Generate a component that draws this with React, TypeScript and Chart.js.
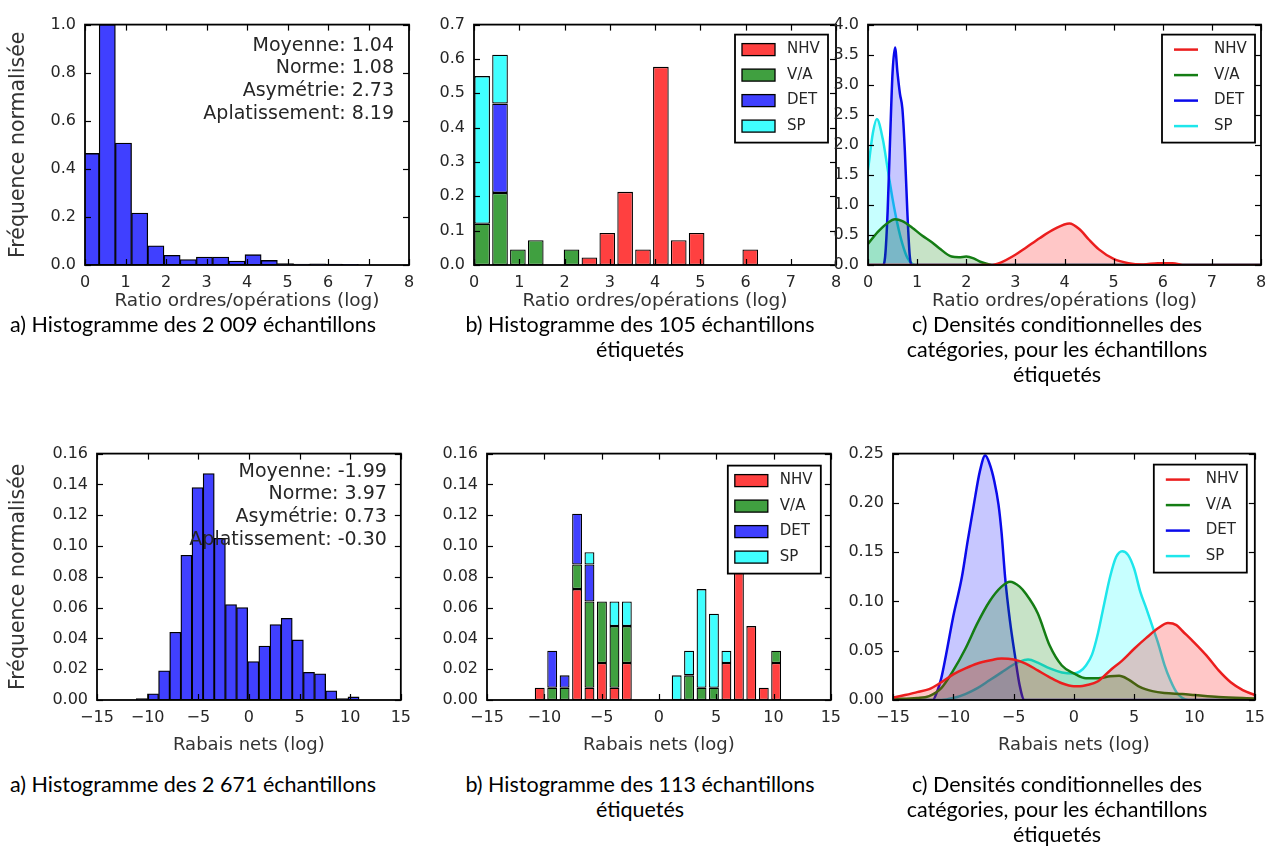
import React, { useEffect, useRef } from 'react';
import { Chart, registerables } from 'chart.js';
Chart.register(...registerables);

// ---------------- data ----------------
const categories = ['NHV', 'V/A', 'DET', 'SP'];

// tick values
const ratioTicksX = [0, 1, 2, 3, 4, 5, 6, 7, 8];
const rabaisTicksX = [-15, -10, -5, 0, 5, 10, 15];
const ratioAllTicksY = [0, 0.2, 0.4, 0.6, 0.8, 1.0];
const ratioLabTicksY = [0, 0.1, 0.2, 0.3, 0.4, 0.5, 0.6, 0.7];
const ratioDensTicksY = [0, 0.5, 1.0, 1.5, 2.0, 2.5, 3.0, 3.5, 4.0];
const rabaisHistTicksY = [0, 0.02, 0.04, 0.06, 0.08, 0.1, 0.12, 0.14, 0.16];
const rabaisDensTicksY = [0, 0.05, 0.1, 0.15, 0.2, 0.25];

// statistics text
const ratioStats = ['Moyenne: 1.04', 'Norme: 1.08', 'Asymétrie: 2.73', 'Aplatissement: 8.19'];
const rabaisStats = ['Moyenne: -1.99', 'Norme: 3.97', 'Asymétrie: 0.73', 'Aplatissement: -0.30'];

// a) ratio histogram, all samples (bin centres / normalised frequency)
const ratioBinsAll = [0.15, 0.55, 0.95, 1.35, 1.75, 2.15, 2.55, 2.95, 3.35, 3.75, 4.15, 4.55, 4.95, 5.35, 5.75, 6.15, 6.55, 6.95, 7.35, 7.75];
const ratioFreqAll = [0.464, 1.0, 0.507, 0.216, 0.08, 0.04, 0.023, 0.033, 0.033, 0.016, 0.043, 0.019, 0.006, 0.004, 0.005, 0.004, 0.003, 0, 0, 0];

// b) ratio histogram, labelled samples (stacked)
const ratioBinsLab = [0.18, 0.575, 0.97, 1.365, 1.76, 2.155, 2.55, 2.945, 3.34, 3.735, 4.13, 4.525, 4.92, 5.315, 5.71, 6.105, 6.5, 6.895, 7.29, 7.685];
const ratioLabNHV = [0, 0, 0, 0, 0, 0, 0.022, 0.093, 0.213, 0.045, 0.577, 0.072, 0.093, 0, 0, 0.045, 0, 0, 0, 0];
const ratioLabVA = [0.12, 0.21, 0.045, 0.072, 0, 0.045, 0, 0, 0, 0, 0, 0, 0, 0, 0, 0, 0, 0, 0, 0];
const ratioLabDET = [0, 0.26, 0, 0, 0, 0, 0, 0, 0, 0, 0, 0, 0, 0, 0, 0, 0, 0, 0, 0];
const ratioLabSP = [0.43, 0.142, 0, 0, 0, 0, 0, 0, 0, 0, 0, 0, 0, 0, 0, 0, 0, 0, 0, 0];

// c) ratio conditional densities
const ratioDensNHVx = [0, 2.5, 2.7, 3.0, 3.2, 3.5, 3.8, 4.1, 4.3, 4.5, 4.7, 5.0, 5.3, 5.6, 5.9, 6.2, 6.45, 8];
const ratioDensNHVy = [0, 0, 0.04, 0.17, 0.28, 0.45, 0.6, 0.69, 0.6, 0.42, 0.26, 0.1, 0.03, 0.01, 0.03, 0.03, 0, 0];
const ratioDensVAx = [0, 0.2, 0.4, 0.55, 0.7, 0.9, 1.1, 1.3, 1.45, 1.7, 1.85, 2.0, 2.15, 2.3, 2.45, 2.55, 8];
const ratioDensVAy = [0.35, 0.55, 0.7, 0.76, 0.73, 0.62, 0.49, 0.38, 0.28, 0.14, 0.13, 0.14, 0.11, 0.05, 0.015, 0, 0];
const ratioDensDETx = [0, 0.3, 0.35, 0.4, 0.45, 0.5, 0.55, 0.6, 0.65, 0.7, 0.75, 0.8, 0.85, 0.9, 8];
const ratioDensDETy = [0, 0, 0.15, 0.9, 2.1, 3.2, 3.62, 3.2, 2.85, 2.6, 1.9, 0.9, 0.15, 0, 0];
const ratioDensSPx = [0, 0.1, 0.18, 0.3, 0.4, 0.5, 0.6, 0.7, 0.8, 0.9, 1.0, 8];
const ratioDensSPy = [1.58, 2.2, 2.43, 2.1, 1.6, 1.1, 0.68, 0.35, 0.12, 0.02, 0, 0];

// a) net discount histogram, all samples
const rabaisBinsAll = [-10.57, -9.47, -8.37, -7.27, -6.17, -5.07, -3.97, -2.87, -1.77, -0.67, 0.43, 1.53, 2.63, 3.73, 4.83, 5.93, 7.03, 8.13, 9.23, 10.33];
const rabaisFreqAll = [0.001, 0.004, 0.019, 0.044, 0.094, 0.138, 0.147, 0.105, 0.062, 0.06, 0.025, 0.035, 0.049, 0.053, 0.039, 0.018, 0.017, 0.006, 0.001, 0.002];

// b) net discount histogram, labelled samples (stacked)
const rabaisBinsLab = [-10.4, -9.31, -8.23, -7.14, -6.06, -4.97, -3.88, -2.8, -1.71, -0.63, 0.46, 1.55, 2.63, 3.72, 4.8, 5.89, 6.98, 8.06, 9.15, 10.23];
const rabaisLabNHV = [0.008, 0, 0, 0.072, 0.008, 0.024, 0.008, 0.024, 0, 0, 0, 0, 0, 0, 0, 0.024, 0.105, 0.048, 0.008, 0.024];
const rabaisLabVA = [0, 0.008, 0.008, 0.016, 0.056, 0.04, 0.04, 0.024, 0, 0, 0, 0, 0.016, 0.008, 0.008, 0, 0, 0, 0, 0.008];
const rabaisLabDET = [0, 0.024, 0.008, 0.033, 0.024, 0, 0, 0, 0, 0, 0, 0, 0, 0, 0, 0, 0, 0, 0, 0];
const rabaisLabSP = [0, 0, 0, 0, 0.008, 0, 0.016, 0.016, 0, 0, 0, 0.016, 0.016, 0.064, 0.048, 0.008, 0, 0, 0, 0];

// c) net discount conditional densities
const rabaisDensNHVx = [-15, -14, -13, -12, -11, -10, -9, -8, -7, -6, -5, -4, -3, -2, -1, 0, 0.5, 1, 2, 3, 4, 5, 6, 7, 7.8, 8.5, 9, 10, 11, 12, 13, 14, 15];
const rabaisDensNHVy = [0.0025, 0.005, 0.008, 0.011, 0.018, 0.026, 0.032, 0.037, 0.04, 0.042, 0.041, 0.037, 0.03, 0.023, 0.017, 0.014, 0.014, 0.015, 0.019, 0.03, 0.04, 0.052, 0.063, 0.073, 0.078, 0.076, 0.07, 0.058, 0.045, 0.03, 0.018, 0.01, 0.005];
const rabaisDensVAx = [-15, -13, -12, -11, -10, -9, -8, -7, -6, -5.3, -4.5, -4, -3, -2, -1, 0, 1, 2, 3, 3.75, 4.5, 5.5, 6.5, 7.5, 9, 10, 12, 15];
const rabaisDensVAy = [0.001, 0.002, 0.004, 0.012, 0.03, 0.052, 0.078, 0.1, 0.115, 0.12, 0.115, 0.108, 0.088, 0.055, 0.035, 0.027, 0.022, 0.022, 0.024, 0.0245, 0.021, 0.013, 0.009, 0.007, 0.006, 0.005, 0.003, 0.0015];
const rabaisDensDETx = [-15, -11.7, -11.3, -11, -10.6, -10, -9.3, -8.8, -8.3, -7.8, -7.35, -7, -6.6, -6.25, -6, -5.7, -5.3, -4.9, -4.5, -4.1, 15];
const rabaisDensDETy = [0, 0, 0.01, 0.022, 0.046, 0.085, 0.124, 0.162, 0.198, 0.232, 0.248, 0.24, 0.222, 0.198, 0.17, 0.124, 0.08, 0.046, 0.015, 0, 0];
const rabaisDensSPx = [-15, -11, -10, -9, -8, -7, -6, -5, -4.5, -3.8, -3, -2, -1, 0, 0.5, 1, 1.5, 2, 2.5, 3, 3.5, 4, 4.5, 5, 5.5, 6, 6.5, 7, 7.5, 8, 8.5, 9, 9.5, 15];
const rabaisDensSPy = [0, 0, 0.002, 0.006, 0.012, 0.02, 0.028, 0.036, 0.039, 0.041, 0.038, 0.032, 0.028, 0.027, 0.029, 0.035, 0.046, 0.068, 0.097, 0.125, 0.145, 0.151, 0.147, 0.133, 0.11, 0.093, 0.075, 0.057, 0.036, 0.02, 0.008, 0.002, 0, 0];

// ---------------- styling ----------------
const BAR_COLORS = ['rgb(255,64,64)', 'rgb(64,160,64)', 'rgb(64,64,255)', 'rgb(64,255,255)'];
const LINE_COLORS = ['rgb(235,30,30)', 'rgb(20,125,20)', 'rgb(10,10,235)', 'rgb(30,230,235)'];
const FILL_COLORS = ['rgba(255,0,0,0.22)', 'rgba(0,128,0,0.22)', 'rgba(0,0,255,0.22)', 'rgba(0,255,255,0.22)'];
const HIST_BLUE = 'rgb(64,64,255)';
const FONT = '"DejaVu Sans"';
const TEXT = '#262626';

Chart.defaults.font.family = FONT;
Chart.defaults.color = TEXT;

const PAD_T = 12;
const PAD_R = 14;

type Geo = { l: number; t: number; r: number; b: number; yW: number; xH: number };

function fmt(dec: number) {
  return (v: number) => {
    const s = Math.abs(v).toFixed(dec);
    return v < -1e-9 ? '\u2212' + s : s;
  };
}

function framePlugin() {
  return {
    id: 'frame',
    afterDatasetsDraw(chart: any) {
      const { ctx, chartArea: a, scales } = chart;
      ctx.save();
      ctx.strokeStyle = '#000';
      ctx.lineWidth = 1.2;
      const L = 6;
      const seg = (x1: number, y1: number, x2: number, y2: number) => {
        ctx.beginPath();
        ctx.moveTo(x1, y1);
        ctx.lineTo(x2, y2);
        ctx.stroke();
      };
      scales.x.ticks.forEach((t: any) => {
        const p = Math.round(scales.x.getPixelForValue(t.value)) + 0.5;
        seg(p, a.bottom, p, a.bottom - L);
        seg(p, a.top, p, a.top + L);
      });
      scales.y.ticks.forEach((t: any) => {
        const p = Math.round(scales.y.getPixelForValue(t.value)) + 0.5;
        seg(a.left, p, a.left + L, p);
        seg(a.right, p, a.right - L, p);
      });
      ctx.lineWidth = 1.8;
      ctx.strokeRect(a.left, a.top, a.right - a.left, a.bottom - a.top);
      ctx.restore();
    },
  };
}

function statsPlugin(lines: string[], dx: number, dy: number, lh: number, size: number) {
  return {
    id: 'stats',
    afterDatasetsDraw(chart: any) {
      const { ctx, chartArea: a } = chart;
      ctx.save();
      ctx.font = `${size}px ${FONT}`;
      ctx.fillStyle = TEXT;
      ctx.textAlign = 'right';
      ctx.textBaseline = 'middle';
      lines.forEach((s, i) => ctx.fillText(s, a.right - dx, a.top + dy + i * lh));
      ctx.restore();
    },
  };
}

function legendPlugin(kind: 'bar' | 'line', dx: number, dy: number) {
  return {
    id: 'boxLegend',
    afterDraw(chart: any) {
      const { ctx, chartArea: a } = chart;
      const w = 93;
      const h = 108;
      const x0 = a.right - dx - w;
      const y0 = a.top + dy;
      ctx.save();
      ctx.fillStyle = '#fff';
      ctx.fillRect(x0, y0, w, h);
      ctx.strokeStyle = '#000';
      ctx.lineWidth = 1.8;
      ctx.strokeRect(x0, y0, w, h);
      chart.data.datasets.forEach((ds: any, i: number) => {
        const cy = y0 + 15 + i * 25.5;
        if (kind === 'bar') {
          ctx.fillStyle = ds.backgroundColor;
          ctx.fillRect(x0 + 7, cy - 6, 33, 12);
          ctx.strokeStyle = '#000';
          ctx.lineWidth = 1.3;
          ctx.strokeRect(x0 + 7, cy - 6, 33, 12);
        } else {
          ctx.strokeStyle = ds.borderColor;
          ctx.lineWidth = 2.5;
          ctx.beginPath();
          ctx.moveTo(x0 + 12, cy);
          ctx.lineTo(x0 + 36, cy);
          ctx.stroke();
        }
        ctx.fillStyle = TEXT;
        ctx.font = `15px ${FONT}`;
        ctx.textAlign = 'left';
        ctx.textBaseline = 'middle';
        ctx.fillText(ds.label, x0 + 52, cy);
      });
      ctx.restore();
    },
  };
}

type AxisOpts = {
  geo: Geo;
  xMin: number; xMax: number; xTicks: number[]; xDec: number; xTitle: string;
  yMin: number; yMax: number; yTicks: number[]; yDec: number; yTitle?: string;
  stacked?: boolean; tickSize: number; titleSize: number; xTickPad: number; xTitlePad: number;
};

function buildOptions(o: AxisOpts) {
  return {
    responsive: false,
    animation: false,
    events: [],
    layout: { padding: { top: PAD_T, right: PAD_R, left: 0, bottom: 0 } },
    plugins: { legend: { display: false }, tooltip: { enabled: false } },
    scales: {
      x: {
        type: 'linear',
        min: o.xMin,
        max: o.xMax,
        offset: false,
        stacked: !!o.stacked,
        grid: { display: false, drawTicks: false },
        border: { display: false },
        afterBuildTicks: (s: any) => { s.ticks = o.xTicks.map((v) => ({ value: v })); },
        afterFit: (s: any) => { s.height = o.geo.xH; },
        ticks: { font: { size: o.tickSize }, color: TEXT, padding: o.xTickPad, maxRotation: 0, autoSkip: false, callback: fmt(o.xDec) },
        title: { display: true, text: o.xTitle, font: { size: o.titleSize }, color: '#333', padding: { top: 0, bottom: o.xTitlePad } },
      },
      y: {
        type: 'linear',
        min: o.yMin,
        max: o.yMax,
        stacked: !!o.stacked,
        grid: { display: false, drawTicks: false },
        border: { display: false },
        afterBuildTicks: (s: any) => { s.ticks = o.yTicks.map((v) => ({ value: v })); },
        afterFit: (s: any) => { s.width = o.geo.yW; },
        ticks: { font: { size: o.tickSize }, color: TEXT, padding: 9, autoSkip: false, callback: fmt(o.yDec) },
        title: { display: !!o.yTitle, text: o.yTitle || '', font: { size: 20.5 }, color: '#333', padding: { top: 6, bottom: 0 } },
      },
    },
  };
}

function barDataset(label: string, xs: number[], ys: number[], color: string, pct: number) {
  return {
    type: 'bar',
    label,
    data: xs.map((x, i) => ({ x, y: ys[i] })),
    backgroundColor: color,
    borderColor: '#000',
    borderWidth: 1.3,
    borderSkipped: false,
    barPercentage: pct,
    categoryPercentage: 1,
    clip: 0,
  };
}

function lineDataset(i: number, xs: number[], ys: number[]) {
  return {
    type: 'line',
    label: categories[i],
    data: xs.map((x, k) => ({ x, y: ys[k] })),
    borderColor: LINE_COLORS[i],
    backgroundColor: FILL_COLORS[i],
    fill: 'origin',
    pointRadius: 0,
    borderWidth: 2.5,
    cubicInterpolationMode: 'monotone',
    clip: 0,
  };
}

// ---------------- geometry ----------------
const GEO = {
  a1: { l: 85, t: 18, r: 409, b: 265, yW: 85, xH: 48 },
  b1: { l: 474, t: 18, r: 836, b: 265, yW: 50, xH: 48 },
  c1: { l: 868, t: 18, r: 1261, b: 265, yW: 45, xH: 48 },
  a2: { l: 97, t: 447, r: 405, b: 700, yW: 97, xH: 58 },
  b2: { l: 487, t: 447, r: 835, b: 700, yW: 55, xH: 58 },
  c2: { l: 893, t: 447, r: 1259, b: 700, yW: 55, xH: 58 },
};

const RATIO_TITLE = 'Ratio ordres/opérations (log)';
const RABAIS_TITLE = 'Rabais nets (log)';
const Y_TITLE = 'Fréquence normalisée';

const topAxis = { xMin: 0, xMax: 8, xTicks: ratioTicksX, xDec: 0, xTitle: RATIO_TITLE, tickSize: 16, titleSize: 18.5, xTickPad: 8, xTitlePad: 1 };
const botAxis = { xMin: -15, xMax: 15, xTicks: rabaisTicksX, xDec: 0, xTitle: RABAIS_TITLE, tickSize: 16, titleSize: 18, xTickPad: 8, xTitlePad: 2 };

const builders: Record<string, () => any> = {
  a1: () => ({
    type: 'bar',
    data: { datasets: [barDataset('Tous', ratioBinsAll, ratioFreqAll, HIST_BLUE, 1)] },
    options: buildOptions({ geo: GEO.a1, ...topAxis, yMin: 0, yMax: 1, yTicks: ratioAllTicksY, yDec: 1, yTitle: Y_TITLE }),
    plugins: [framePlugin(), statsPlugin(ratioStats, 15, 21, 22.7, 19)],
  }),
  b1: () => ({
    type: 'bar',
    data: {
      datasets: [
        barDataset(categories[0], ratioBinsLab, ratioLabNHV, BAR_COLORS[0], 0.875),
        barDataset(categories[1], ratioBinsLab, ratioLabVA, BAR_COLORS[1], 0.875),
        barDataset(categories[2], ratioBinsLab, ratioLabDET, BAR_COLORS[2], 0.875),
        barDataset(categories[3], ratioBinsLab, ratioLabSP, BAR_COLORS[3], 0.875),
      ],
    },
    options: buildOptions({ geo: GEO.b1, ...topAxis, yMin: 0, yMax: 0.7, yTicks: ratioLabTicksY, yDec: 1, stacked: true }),
    plugins: [framePlugin(), legendPlugin('bar', 8, 10)],
  }),
  c1: () => ({
    type: 'line',
    data: {
      datasets: [
        lineDataset(0, ratioDensNHVx, ratioDensNHVy),
        lineDataset(1, ratioDensVAx, ratioDensVAy),
        lineDataset(2, ratioDensDETx, ratioDensDETy),
        lineDataset(3, ratioDensSPx, ratioDensSPy),
      ],
    },
    options: buildOptions({ geo: GEO.c1, ...topAxis, yMin: 0, yMax: 4, yTicks: ratioDensTicksY, yDec: 1 }),
    plugins: [framePlugin(), legendPlugin('line', 6, 10)],
  }),
  a2: () => ({
    type: 'bar',
    data: { datasets: [barDataset('Tous', rabaisBinsAll, rabaisFreqAll, HIST_BLUE, 1)] },
    options: buildOptions({ geo: GEO.a2, ...botAxis, yMin: 0, yMax: 0.16, yTicks: rabaisHistTicksY, yDec: 2, yTitle: Y_TITLE }),
    plugins: [framePlugin(), statsPlugin(rabaisStats, 14, 18, 22.7, 19)],
  }),
  b2: () => ({
    type: 'bar',
    data: {
      datasets: [
        barDataset(categories[0], rabaisBinsLab, rabaisLabNHV, BAR_COLORS[0], 0.8),
        barDataset(categories[1], rabaisBinsLab, rabaisLabVA, BAR_COLORS[1], 0.8),
        barDataset(categories[2], rabaisBinsLab, rabaisLabDET, BAR_COLORS[2], 0.8),
        barDataset(categories[3], rabaisBinsLab, rabaisLabSP, BAR_COLORS[3], 0.8),
      ],
    },
    options: buildOptions({ geo: GEO.b2, ...botAxis, yMin: 0, yMax: 0.16, yTicks: rabaisHistTicksY, yDec: 2, stacked: true }),
    plugins: [framePlugin(), legendPlugin('bar', 10, 12)],
  }),
  c2: () => ({
    type: 'line',
    data: {
      datasets: [
        lineDataset(0, rabaisDensNHVx, rabaisDensNHVy),
        lineDataset(1, rabaisDensVAx, rabaisDensVAy),
        lineDataset(2, rabaisDensDETx, rabaisDensDETy),
        lineDataset(3, rabaisDensSPx, rabaisDensSPy),
      ],
    },
    options: buildOptions({ geo: GEO.c2, ...botAxis, yMin: 0, yMax: 0.25, yTicks: rabaisDensTicksY, yDec: 2 }),
    plugins: [framePlugin(), legendPlugin('line', 8, 11)],
  }),
};

function ChartPanel({ geo, build }: { geo: Geo; build: () => any }) {
  const ref = useRef<HTMLCanvasElement | null>(null);
  const left = geo.l - geo.yW;
  const top = geo.t - PAD_T;
  const width = geo.r - geo.l + geo.yW + PAD_R;
  const height = geo.b - geo.t + PAD_T + geo.xH;
  useEffect(() => {
    const chart = new Chart(ref.current as HTMLCanvasElement, build());
    return () => chart.destroy();
  }, []);
  return (
    <canvas
      ref={ref}
      width={width}
      height={height}
      style={{ position: 'absolute', left, top, width, height, display: 'block' }}
    />
  );
}

const captionStyle: React.CSSProperties = {
  position: 'absolute',
  fontFamily: 'Lato, "Open Sans", sans-serif',
  fontSize: 21.5,
  lineHeight: '25px',
  color: '#000',
  whiteSpace: 'nowrap',
};

function Caption({ left, top, width, align, lines }: { left: number; top: number; width: number; align: 'left' | 'center'; lines: string[] }) {
  return (
    <div style={{ ...captionStyle, left, top, width, textAlign: align }}>
      {lines.map((s, i) => (
        <div key={i}>{s}</div>
      ))}
    </div>
  );
}

export default function App() {
  return (
    <div style={{ position: 'absolute', left: 0, top: 0, width: 1278, height: 857, background: '#fff', overflow: 'hidden' }}>
      {Object.keys(GEO).map((k) => (
        <ChartPanel key={k} geo={(GEO as any)[k]} build={builders[k]} />
      ))}
      <Caption left={10} top={312} width={420} align="left" lines={['a) Histogramme des 2 009 échantillons']} />
      <Caption left={430} top={312} width={420} align="center" lines={['b) Histogramme des 105 échantillons', 'étiquetés']} />
      <Caption left={847} top={312} width={420} align="center" lines={['c) Densités conditionnelles des', 'catégories, pour les échantillons', 'étiquetés']} />
      <Caption left={10} top={772} width={420} align="left" lines={['a) Histogramme des 2 671 échantillons']} />
      <Caption left={430} top={772} width={420} align="center" lines={['b) Histogramme des 113 échantillons', 'étiquetés']} />
      <Caption left={847} top={772} width={420} align="center" lines={['c) Densités conditionnelles des', 'catégories, pour les échantillons', 'étiquetés']} />
    </div>
  );
}
